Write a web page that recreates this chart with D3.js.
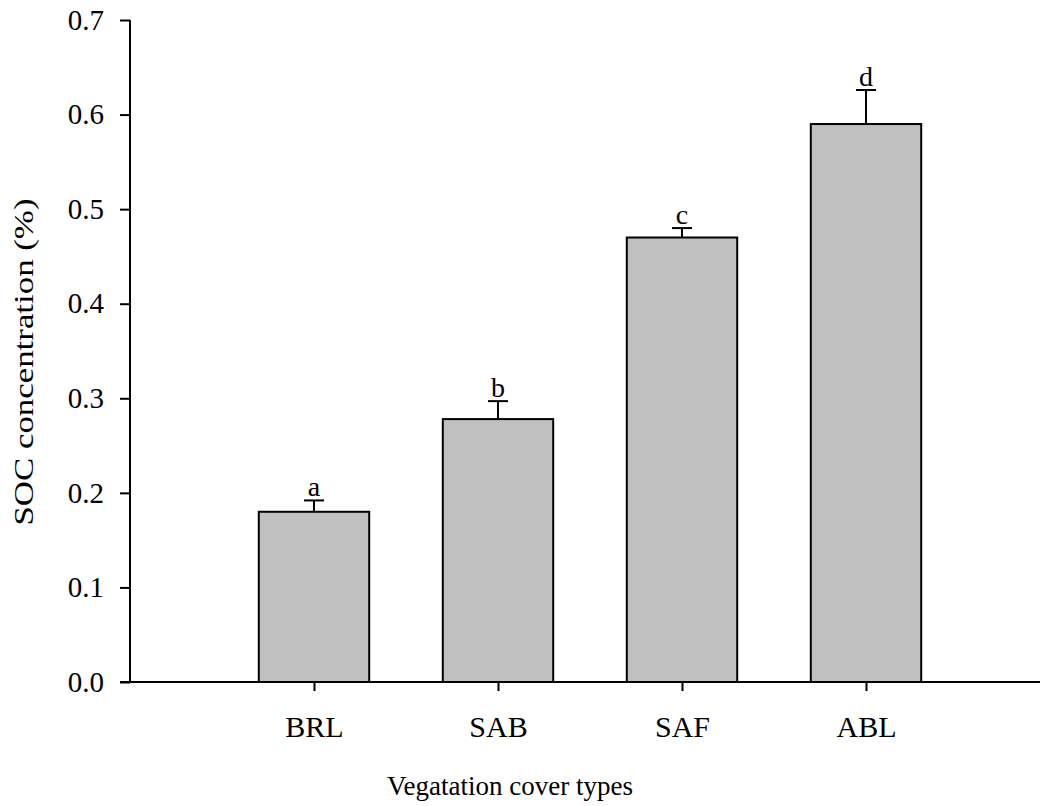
<!DOCTYPE html>
<html>
<head>
<meta charset="utf-8">
<script src="https://cdn.jsdelivr.net/npm/d3@7"></script>
<style>
  html, body { margin: 0; padding: 0; background: #fff; }
  svg text { font-family: "Liberation Serif", "Times New Roman", serif; fill: #000; }
</style>
</head>
<body>
<svg id="chart" width="1040" height="806"></svg>
<script>
// SOC concentration by vegetation cover type, with standard errors and significance letters
const categories = ["BRL", "SAB", "SAF", "ABL"];
const socMean = [0.180, 0.278, 0.470, 0.590];
const socError = [0.012, 0.019, 0.010, 0.036];
const groupLetters = ["a", "b", "c", "d"];
const yTicks = [0.0, 0.1, 0.2, 0.3, 0.4, 0.5, 0.6, 0.7];

const svg = d3.select("#chart");
const plotLeft = 130, plotRight = 1050, plotTop = 20, plotBottom = 682;

const x = d3.scalePoint().domain(categories).range([plotLeft, plotRight]).padding(1);
const y = d3.scaleLinear().domain([0, 0.7]).range([plotBottom, plotTop]);
const barWidth = x.step() * 0.6;

// bars
svg.append("g").selectAll("rect")
  .data(categories)
  .join("rect")
  .attr("x", (d) => x(d) - barWidth / 2)
  .attr("y", (d, i) => y(socMean[i]))
  .attr("width", barWidth)
  .attr("height", (d, i) => y(0) - y(socMean[i]))
  .attr("fill", "#c0c0c0")
  .attr("stroke", "#000")
  .attr("stroke-width", 2);

// upper error bars
const capHalf = 10;
const err = svg.append("g").attr("stroke", "#000").attr("stroke-width", 2);
categories.forEach((c, i) => {
  const cx = x(c);
  const yTop = y(socMean[i] + socError[i]);
  err.append("line").attr("x1", cx).attr("x2", cx).attr("y1", y(socMean[i])).attr("y2", yTop);
  err.append("line").attr("x1", cx - capHalf).attr("x2", cx + capHalf).attr("y1", yTop).attr("y2", yTop);
});

// significance letters
svg.append("g").selectAll("text")
  .data(categories)
  .join("text")
  .attr("x", (d) => x(d))
  .attr("y", (d, i) => y(socMean[i] + socError[i]) - 4)
  .attr("text-anchor", "middle")
  .attr("font-size", 28)
  .text((d, i) => groupLetters[i]);

// y axis
const yAxis = svg.append("g")
  .attr("transform", `translate(${plotLeft},0)`)
  .call(d3.axisLeft(y).tickValues(yTicks).tickFormat(d3.format(".1f")).tickSize(10).tickPadding(16));
yAxis.select(".domain").attr("d", `M0,${plotTop}V${plotBottom}`).attr("stroke-width", 2);
yAxis.selectAll(".tick line").attr("stroke-width", 2);
yAxis.selectAll(".tick text").attr("font-size", 29).attr("font-family", "Liberation Serif");

// x axis
const xAxis = svg.append("g")
  .attr("transform", `translate(0,${plotBottom})`)
  .call(d3.axisBottom(x).tickSize(9).tickPadding(25));
xAxis.select(".domain").attr("d", `M${plotLeft - 10},0H${plotRight}`).attr("stroke-width", 2);
xAxis.selectAll(".tick line").attr("stroke-width", 2);
xAxis.selectAll(".tick text").attr("font-size", 30).attr("font-family", "Liberation Serif");

// axis titles
svg.append("text")
  .attr("x", 510)
  .attr("y", 795)
  .attr("text-anchor", "middle")
  .attr("font-size", 27)
  .text("Vegatation cover types");

svg.append("text")
  .attr("transform", "translate(33,362) rotate(-90)")
  .attr("text-anchor", "middle")
  .attr("font-size", 28)
  .attr("textLength", 327)
  .attr("lengthAdjust", "spacingAndGlyphs")
  .text("SOC concentration (%)");
</script>
</body>
</html>
